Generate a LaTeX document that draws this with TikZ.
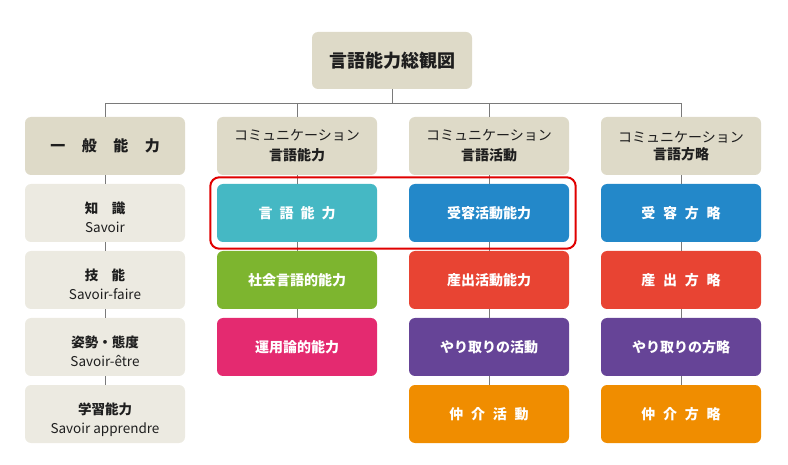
\documentclass[tikz,border=0pt]{standalone}
\usepackage{fontspec}
\setmainfont{Noto Sans CJK JP}
\usepackage{xcolor}
\usepackage{tikz}
\usetikzlibrary{positioning,fit}
\definecolor{ink}{HTML}{1E1E1E}
\definecolor{headFill}{HTML}{DEDAC8}
\definecolor{paleFill}{HTML}{ECEAE1}
\definecolor{linkGray}{HTML}{7A7A7A}
\definecolor{tealFill}{HTML}{45B8C4}
\definecolor{blueFill}{HTML}{2388C9}
\definecolor{greenFill}{HTML}{7DB52F}
\definecolor{pinkFill}{HTML}{E42A70}
\definecolor{redFill}{HTML}{E84433}
\definecolor{violetFill}{HTML}{664497}
\definecolor{orangeFill}{HTML}{F08D00}
\definecolor{markRed}{HTML}{E00000}
\newcommand{\paleText}[2]{\raisebox{-6pt}[\height][\depth]{\begin{tabular}{@{}c@{}}\bfseries #1\\[-2pt] #2\end{tabular}}}
\tikzset{
  box/.style={rounded corners=6pt, minimum width=160pt, minimum height=58pt, inner sep=0pt, align=center},
  headBox/.style={box, fill=headFill, text=ink, font=\fontsize{14}{21}\selectfont},
  paleBox/.style={box, fill=paleFill, text=ink, font=\fontsize{13.5}{21}\selectfont},
  colBox/.style={box, text=white, font=\bfseries\fontsize{14}{16}\selectfont},
  link/.style={draw=linkGray, line width=0.8pt},
  markBox/.style={draw=markRed, line width=2pt, rounded corners=9pt, inner sep=6.5pt}
}

\begin{document}
\begin{tikzpicture}[x=1pt,y=-1pt]
\useasboundingbox (0,0) rectangle (788,465);

% title
\node[headBox, minimum height=57pt, font=\bfseries\fontsize{18}{20}\selectfont] (top) at (392,60.5) {言語能力総観図};
\coordinate (bus) at (392,103);

% column heads
\node[headBox, font=\bfseries\fontsize{15}{18}\selectfont] (hd1) at (105,146) {一\hspace{1.1em}般\hspace{1.1em}能\hspace{1.1em}力};
\node[headBox] (hd2) at (297,146) {コミュニケーション\\[-1pt]{\bfseries 言語能力}};
\node[headBox] (hd3) at (489,146) {コミュニケーション\\[-1pt]{\bfseries 言語活動}};
\node[headBox] (hd4) at (681,146) {コミュニケーション\\[-4pt]{\bfseries 言語方略}};

% general competences
\node[paleBox] (gn1) at (105,213) {\paleText{知\quad 識}{Savoir}};
\node[paleBox] (gn2) at (105,280) {\paleText{技\quad 能}{Savoir-faire}};
\node[paleBox] (gn3) at (105,347) {\paleText{姿勢・態度}{Savoir-être}};
\node[paleBox] (gn4) at (105,414) {\paleText{学習能力}{Savoir apprendre}};

% language competences
\node[colBox, fill=tealFill] (cp1) at (297,213) {言\hspace{0.5em}語\hspace{0.5em}能\hspace{0.5em}力};
\node[colBox, fill=greenFill] (cp2) at (297,280) {社会言語的能力};
\node[colBox, fill=pinkFill] (cp3) at (297,347) {運用論的能力};

% activities
\node[colBox, fill=blueFill] (ac1) at (489,213) {受容活動能力};
\node[colBox, fill=redFill] (ac2) at (489,280) {産出活動能力};
\node[colBox, fill=violetFill] (ac3) at (489,347) {やり取りの活動};
\node[colBox, fill=orangeFill] (ac4) at (489,414) {仲\hspace{0.55em}介\hspace{0.55em}活\hspace{0.55em}動};

% strategies
\node[colBox, fill=blueFill] (st1) at (681,213) {受\hspace{0.55em}容\hspace{0.55em}方\hspace{0.55em}略};
\node[colBox, fill=redFill] (st2) at (681,280) {産\hspace{0.55em}出\hspace{0.55em}方\hspace{0.55em}略};
\node[colBox, fill=violetFill] (st3) at (681,347) {やり取りの方略};
\node[colBox, fill=orangeFill] (st4) at (681,414) {仲\hspace{0.55em}介\hspace{0.55em}方\hspace{0.55em}略};

% tree lines
\draw[link] (top.south) -- (top.south |- bus);
\draw[link] (hd1.north) -- (hd1.north |- bus) -- (hd4.north |- bus) -- (hd4.north);
\draw[link] (hd2.north) -- (hd2.north |- bus);
\draw[link] (hd3.north) -- (hd3.north |- bus);
\draw[link] (hd1) -- (gn1) -- (gn2) -- (gn3) -- (gn4);
\draw[link] (hd2) -- (cp1) -- (cp2) -- (cp3);
\draw[link] (hd3) -- (ac1) -- (ac2) -- (ac3) -- (ac4);
\draw[link] (hd4) -- (st1) -- (st2) -- (st3) -- (st4);

% highlight
\node[markBox, fit=(cp1)(ac1)] (hl) {};
\end{tikzpicture}
\end{document}
